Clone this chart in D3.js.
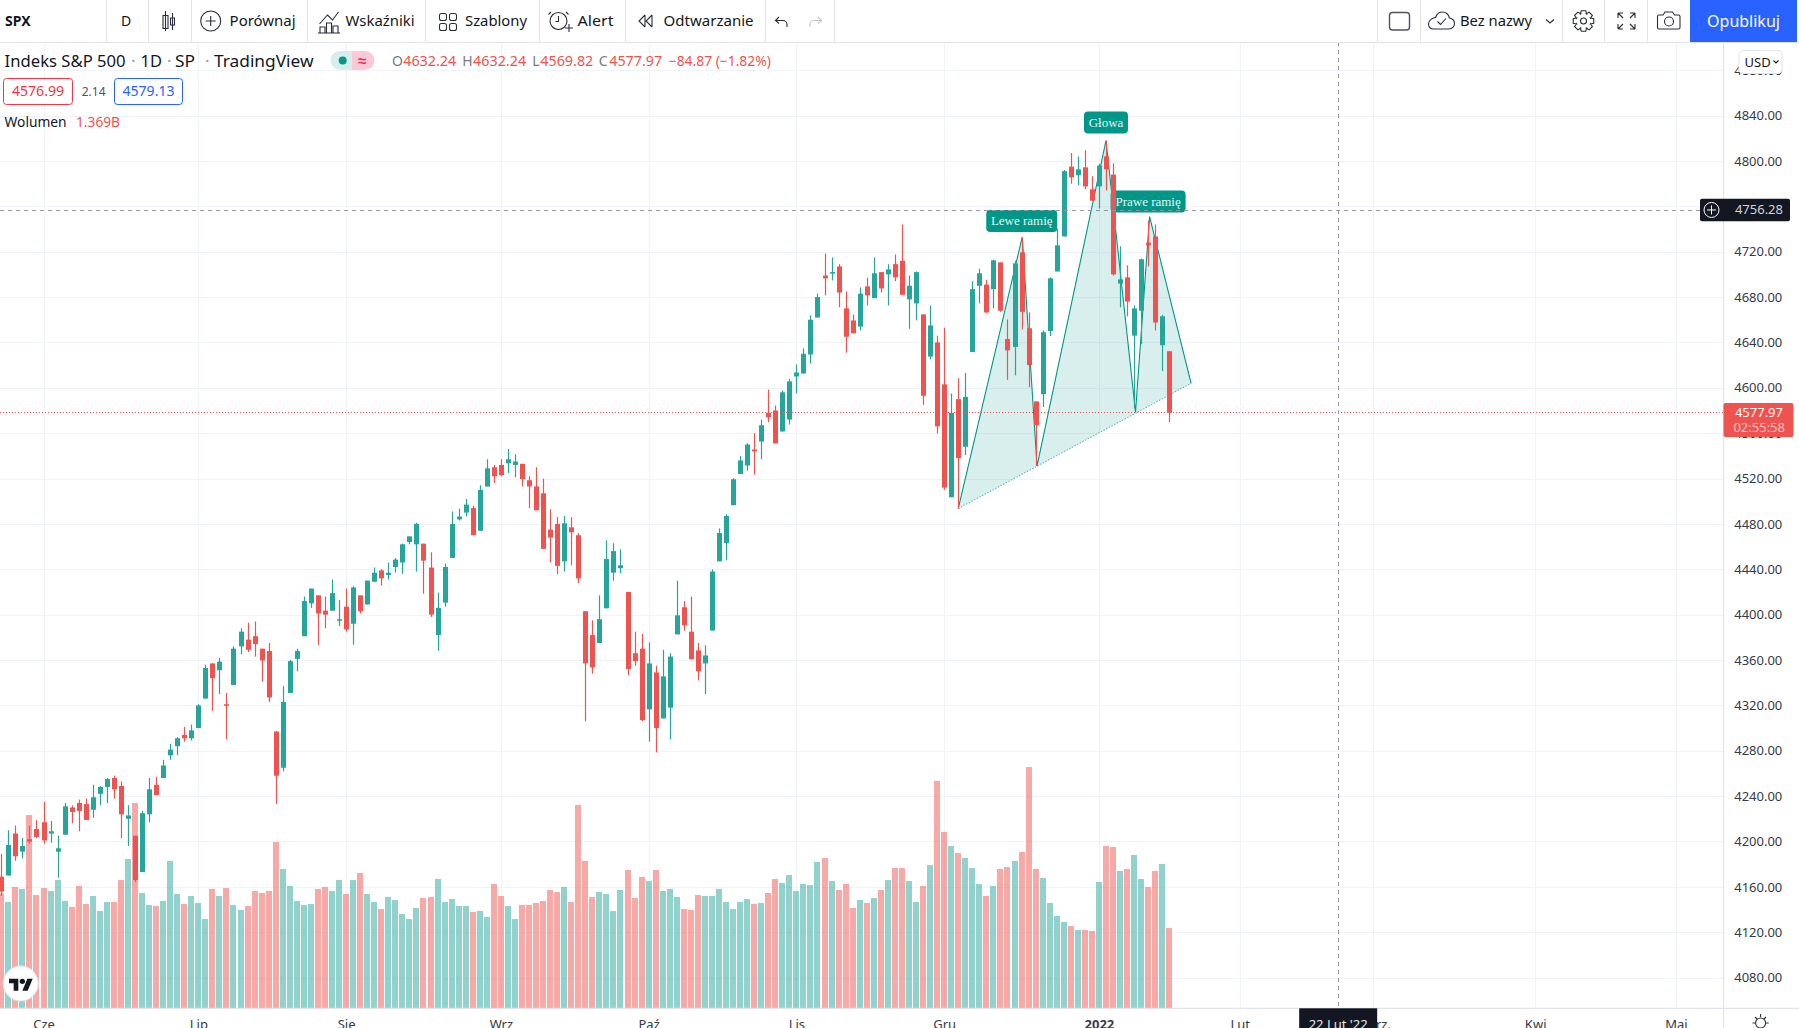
<!DOCTYPE html>
<html><head><meta charset="utf-8">
<script src="https://cdn.jsdelivr.net/npm/d3@7"></script>
<style>html,body{margin:0;padding:0;background:#fff;overflow:hidden}svg{display:block}
text{font-family:"Noto Sans",sans-serif}</style></head><body>
<svg id="c" width="1799" height="1028"></svg>
<script>
const opens=[4169,4170,4207,4191,4202,4211,4217,4207,4191,4206,4230,4234,4233,4228,4242,4248,4256,4249,4220,4205,4173,4224,4250,4256,4276,4284,4294,4291,4300,4326,4357,4351,4321,4338,4372,4378,4381,4370,4368,4297,4265,4331,4361,4381,4410,4417,4403.5,4403.5,4395,4407,4392,4417,4409,4429,4439,4435,4442,4446,4464,4462,4462.6,4441.5,4382,4410.6,4450,4484,4490,4494,4474,4513,4530,4532,4533.5,4532,4533,4518.5,4513,4507,4475,4480,4447,4477,4470,4403,4382,4375,4405.6,4437,4441,4420,4366,4370,4316.5,4349,4308.5,4318,4382.6,4406.5,4385,4368.5,4357,4386,4447,4463,4496.5,4524,4531.5,4545.6,4552.6,4578,4580,4561.5,4572,4610,4612.6,4629.4,4662,4699,4701,4707,4670,4659.4,4654,4689.4,4679,4702,4700,4709,4712,4678,4674.4,4664.7,4627.6,4640,4603,4503.5,4590,4548,4631.5,4690,4691,4687,4710.6,4643,4636,4719.4,4652.5,4588,4594.4,4650,4702.6,4733.5,4795,4787.4,4794.4,4775,4777.6,4804,4788,4692,4697.4,4646,4668,4728,4733.5,4637.6,4632.24];
const highs=[4189,4210,4214,4203,4214,4219,4235,4218,4205,4234,4232,4237,4238,4250,4249,4256,4258,4253,4232,4205,4227,4256,4257,4272,4286,4292,4301,4303,4321,4356,4357,4362,4331,4372,4388,4393,4394,4370,4375,4297,4337,4360,4370,4416,4423,4417,4416,4431,4413,4423,4425,4417,4430,4441.5,4440,4446,4450,4462.6,4469,4481,4462.6,4455,4419.4,4445,4491,4493.5,4502,4496,4514,4537,4532,4537,4546,4541.5,4533,4522,4530,4520,4493,4486,4487,4486,4472,4403,4395,4417,4465.6,4463,4457.6,4420,4385,4383,4375.6,4355,4369,4366,4430,4412,4416,4375,4373,4440,4476,4488.5,4520.3,4540,4551,4560,4572,4598.5,4584.4,4597.6,4608,4620.6,4634.7,4664,4683,4718.5,4715,4709,4685,4664.7,4688.5,4697,4715,4702,4709,4717.6,4744,4699,4702.6,4664.7,4672.6,4646,4653,4595,4608.5,4613,4694,4705,4695,4713,4710.6,4660.3,4712,4732,4666.5,4588,4650.6,4697.5,4740,4792,4807,4804,4809.4,4786.5,4797.6,4818,4798,4724.7,4708,4672.6,4714,4747.6,4744,4664.4,4632.24];
const lows=[4152,4170,4183,4185,4198,4203,4198,4199,4168,4206,4216,4209,4219,4221,4232,4234,4238,4203,4196,4164,4173,4217,4241,4256,4272,4276,4288,4289,4300,4326,4315,4330,4290,4338,4365,4367,4363,4341,4323,4233,4262,4331,4350,4381,4406,4373,4388,4403.5,4390,4385,4373.5,4401,4409,4429,4425.6,4431,4437,4436,4462,4438,4418.5,4398,4368,4407,4450,4483,4486.5,4470,4474,4513,4516,4522,4525,4521,4513,4494,4492,4458,4446,4435.6,4438,4443.5,4427.6,4306,4348,4375,4405.6,4430,4436.5,4346.5,4355,4306,4288,4278.5,4308.5,4290,4382.6,4386,4360.6,4342,4330,4386,4447,4448,4496.5,4524,4527,4523.5,4537,4569.6,4551,4561.5,4567.6,4595,4612.6,4621.5,4662,4681.5,4694.7,4671,4631,4648,4650.6,4672.6,4679,4684,4672.6,4694,4682,4652,4659.4,4585,4625,4559.7,4510,4503.5,4493.5,4540.6,4631.5,4674.4,4666,4670,4667,4607,4611,4651.5,4600.6,4531,4583,4645.6,4702.6,4733.5,4780,4778.5,4775,4765,4758,4774,4699,4671,4663,4582,4638.5,4707,4650.6,4614.7,4569.82];
const closes=[4156,4197,4187,4196,4200,4204,4201,4209,4194,4231,4226,4227,4219,4239,4248,4255,4246,4224,4223,4166,4225,4246,4241,4267,4281,4291,4291,4298,4320,4353,4344,4358.5,4320,4370,4385,4369,4374,4359.6,4327,4258,4323,4359,4368,4412,4423,4401,4400,4419,4396,4387,4424,4403,4430,4437,4432,4437,4448.5,4462,4469,4480,4447.6,4400,4406,4442,4480,4486.5,4497,4470,4510,4529,4522,4523,4537,4535,4519.6,4513,4492,4458,4468,4443,4480.6,4472.6,4432,4357,4353.5,4396,4449,4456,4443.5,4352,4359,4307,4357,4300,4345.6,4363,4399.4,4390.6,4360.6,4350,4364,4438,4472,4487,4519.4,4536,4550,4544,4567,4574,4551,4596,4605.6,4613.5,4630,4660,4680,4696.5,4702,4684,4645,4648,4683,4681.5,4701,4687.6,4704.4,4697.4,4682,4690,4702,4593,4655,4566,4512,4578,4538,4592,4687,4701,4666.5,4712.4,4668,4633,4709.7,4667,4620,4567,4649,4696.5,4725.6,4791,4785.6,4792.6,4777.6,4765,4796,4792.6,4700,4695.6,4676,4670,4713.3,4725.6,4657.6,4663,4577.97];
const volumes=[1960,1812,2068,2033,3294,1931,2050,1999,2187,1829,1727,2085,1778,1914,1659,1812,1812,2187,2545,3499,1965,1761,1744,1829,2511,1948,1778,1914,1795,1522,2033,1914,2050,1761,1676,1744,1999,1965,1999,2834,2374,2085,1829,1761,1778,2033,2068,1999,2187,1948,2187,2306,1948,1812,1693,1897,1846,1607,1522,1710,1880,1897,2204,1812,1863,1744,1744,1642,1659,1556,2119,1914,1744,1522,1761,1761,1795,1829,2016,1982,2068,1812,3465,2511,1897,1982,1948,1659,2016,2357,1880,2238,2170,2357,1999,2033,1897,1693,1676,1931,1914,1914,2033,1812,1693,1812,1863,1778,1795,1965,2204,2136,2272,1999,2119,2102,2494,2562,2170,2016,2119,1710,1846,1795,1880,2016,2187,2391,2391,2170,1812,2085,2442,3874,3005,2766,2647,2562,2391,2119,1914,2085,2374,2408,2511,2664,4112,2374,2221,1795,1573,1471,1403,1335,1335,1318,2153,2766,2749,2340,2374,2613,2204,2068,2340,2459,1369];
const priceTicks=[4080,4120,4160,4200,4240,4280,4320,4360,4400,4440,4480,4520,4560,4600,4640,4680,4720,4760,4800,4840,4880];
const monthIndex=[6,28,49,71,92,113,134,156,176,195,218,238];
const monthLabels=["Cze","Lip","Sie","Wrz","Paź","Lis","Gru","2022","Lut","Marz.","Kwi","Maj"];
const patternIndex=[136,145.1,147.2,157,161.2,163.2,169.1];
const patternPrice=[4493.5,4733,4531,4818,4578.5,4751,4604];
const patternLabels=["Lewe ramię","Głowa","Prawe ramię"];
const labelAnchorPoint=[1,3,5];
const lastPrice=4577.97, crossPrice=4756.28, crossIndex=190;

const W=1799,H=1028,PR=1723.5,TOP=42,BOT=1008.3;
const RED="#ef5350",GRN="#26a69a",TEAL="#009688",GRID="#f0f3fa",BORDER="#e0e3eb",INK="#131722";
const x=d3.scaleLinear().domain([0,166]).range([1.3,1169.3]);
const y=d3.scaleLinear().domain([4080,4840]).range([977.6,115.6]);
const yv=d3.scaleLinear().domain([0,4112]).range([BOT,BOT-241.3]);
const svg=d3.select("#c");
svg.append("defs").append("clipPath").attr("id","pane").append("rect").attr("x",0).attr("y",TOP+1).attr("width",PR).attr("height",BOT-TOP-1);
const pane=svg.append("g").attr("clip-path","url(#pane)");
// grid
pane.append("g").selectAll("line").data(priceTicks).join("line")
 .attr("x1",0).attr("x2",PR).attr("y1",d=>Math.round(y(d))+.5).attr("y2",d=>Math.round(y(d))+.5).attr("stroke",GRID);
pane.append("g").selectAll("line").data(monthIndex).join("line")
 .attr("y1",TOP).attr("y2",BOT).attr("x1",d=>Math.round(x(d))+.5).attr("x2",d=>Math.round(x(d))+.5).attr("stroke",GRID);
// volume
pane.append("g").selectAll("rect").data(volumes).join("rect")
 .attr("x",(d,i)=>Math.round(x(i))-3).attr("width",6)
 .attr("y",d=>yv(d)).attr("height",d=>BOT-yv(d))
 .attr("fill",(d,i)=>closes[i]<opens[i]?RED:GRN).attr("fill-opacity",.5);
// pattern
const pts=patternIndex.map((d,i)=>[x(d),y(patternPrice[i])]);
const pat=pane.append("g");
pat.append("path").attr("d",d3.line()(pts)+"Z").attr("fill",TEAL).attr("fill-opacity",.15);
pat.append("path").attr("d",d3.line()(pts)).attr("fill","none").attr("stroke",TEAL).attr("stroke-width",1.1);
pat.append("line").attr("x1",pts[0][0]).attr("y1",pts[0][1]).attr("x2",pts[6][0]).attr("y2",pts[6][1])
 .attr("stroke",TEAL).attr("stroke-opacity",.6).attr("stroke-width",1.1).attr("stroke-dasharray","1.5 1.5");
const labelW=[71,44,75];
const labelGap=[5,7,4];
const labelLeft=[36,22,39];
patternLabels.forEach((t,i)=>{
  const p=pts[labelAnchorPoint[i]], w=labelW[i], h=22;
  const top=p[1]-h-labelGap[i];
  const lx=p[0]-labelLeft[i];
  pat.append("rect").attr("x",lx).attr("y",top).attr("width",w).attr("height",h).attr("rx",4).attr("fill",TEAL);
  pat.append("text").attr("x",lx+w/2).attr("y",top+h/2+4.3).attr("text-anchor","middle")
   .style("font-family",'"Liberation Serif",serif').attr("font-size",13).attr("fill","#e6f5f3").text(t);
});
// candles
const cg=pane.append("g");
opens.forEach((o,i)=>{
  const c=closes[i],col=c<o?RED:GRN,xc=Math.round(x(i));
  cg.append("line").attr("x1",xc+.5).attr("x2",xc+.5).attr("y1",y(highs[i])).attr("y2",y(lows[i])).attr("stroke",col).attr("stroke-width",1.2);
  const t=y(Math.max(o,c)),b=y(Math.min(o,c));
  cg.append("rect").attr("x",xc-2).attr("width",5).attr("y",t).attr("height",Math.max(b-t,1.5)).attr("fill",col);
});
// last price + crosshair
pane.append("line").attr("x1",0).attr("x2",PR).attr("y1",Math.floor(y(lastPrice))+.5).attr("y2",Math.floor(y(lastPrice))+.5).attr("stroke",RED).attr("stroke-dasharray","1 2");
const cross=pane.append("g").attr("stroke","#9598a1").attr("stroke-dasharray","4 4");
cross.append("line").attr("x1",0).attr("x2",PR).attr("y1",Math.floor(y(crossPrice))+.5).attr("y2",Math.floor(y(crossPrice))+.5);
cross.append("line").attr("x1",Math.round(x(crossIndex))+.5).attr("x2",Math.round(x(crossIndex))+.5).attr("y1",TOP).attr("y2",BOT);
// axes
const ya=svg.append("g").attr("transform","translate(1782.3,0)").call(d3.axisRight(y).tickValues(priceTicks).tickSize(0).tickPadding(0).tickFormat(d=>d.toFixed(2)));
ya.select(".domain").remove();
ya.selectAll("text").attr("text-anchor","end").attr("x",0).attr("font-size",13).attr("fill","#363a45").style("font-family",'"Noto Sans"');
const xa=svg.append("g").attr("transform",`translate(0,${BOT})`).call(d3.axisBottom(x).tickValues(monthIndex).tickSize(0).tickPadding(0).tickFormat((d,i)=>monthLabels[i]));
xa.select(".domain").remove();
xa.selectAll("text").attr("y",21).attr("dy",0).attr("font-size",13).attr("fill","#363a45").style("font-family",'"Noto Sans"').attr("font-weight",(d,i)=>monthLabels[i]=="2022"?700:400);
svg.append("line").attr("x1",0).attr("x2",W).attr("y1",BOT).attr("y2",BOT).attr("stroke",BORDER).attr("stroke-width",1.2);
svg.append("line").attr("x1",PR).attr("x2",PR).attr("y1",TOP).attr("y2",H).attr("stroke",BORDER).attr("stroke-width",1.2);

// helper
function T(t,px,py,o={}){const e=svg.append("text").attr("x",px).attr("y",py).attr("font-size",o.s||14).attr("fill",o.c||INK).attr("text-anchor",o.a||"start").attr("font-weight",o.w||400).text(t);if(o.f)e.style("font-family",o.f);if(o.l)e.attr("textLength",o.l).attr("lengthAdjust","spacingAndGlyphs");return e;}
// crosshair tags
const ty=y(crossPrice)-.6;
svg.append("rect").attr("x",1700).attr("y",ty-11.3).attr("width",90).attr("height",22.6).attr("rx",2).attr("fill",INK);
svg.append("circle").attr("cx",1711.5).attr("cy",ty).attr("r",7.5).attr("fill","none").attr("stroke","#fff");
svg.append("path").attr("d",`M1707 ${ty}h9M1711.5 ${ty-4.5}v9`).attr("stroke","#fff");
T(crossPrice.toFixed(2),1783,ty+4.5,{a:"end",s:13,c:"#d1d4dc"});
const lx=x(crossIndex);
svg.append("rect").attr("x",lx-39).attr("y",BOT).attr("width",78).attr("height",H-BOT).attr("fill",INK);
T("22 Lut '22",lx,1029,{a:"middle",s:13,c:"#e8e8ea"});
// last price tag
svg.append("rect").attr("x",1723.5).attr("y",403).attr("width",70).attr("height",34).attr("rx",2).attr("fill",RED);
T(lastPrice.toFixed(2),1783,416.7,{a:"end",s:13,c:"#fff"});
T("02:55:58",1785,431.7,{a:"end",s:13,c:"#fbc4c3"});
// USD
svg.append("rect").attr("x",1739).attr("y",50.5).attr("width",43).attr("height",23).attr("rx",4).attr("fill","#fff").attr("stroke",BORDER);
T("USD",1744.5,66.5,{s:13});
svg.append("path").attr("d","M1773.5 60.5l2.5 2.5 2.5-2.5").attr("fill","none").attr("stroke",INK).attr("stroke-width",1.1);

// toolbar
svg.append("rect").attr("x",0).attr("y",0).attr("width",W).attr("height",42).attr("fill","#fff");
svg.append("line").attr("x1",0).attr("x2",W).attr("y1",42.5).attr("y2",42.5).attr("stroke",BORDER).attr("stroke-width",1.2);
[105.6,148,190.6,306.5,425.4,538.5,624.6,764.6,833.5,1377.3,1420.3,1561.7,1604.3,1647.3].forEach(v=>svg.append("line").attr("x1",Math.round(v)+.5).attr("x2",Math.round(v)+.5).attr("y1",0).attr("y2",42).attr("stroke",BORDER));
svg.append("rect").attr("x",1690).attr("y",0).attr("width",107).attr("height",42).attr("fill","#2962ff");
T("Opublikuj",1743.5,26.5,{a:"middle",s:16,c:"#fff"});
T("SPX",5,26,{s:14,w:700});
T("D",126,26,{a:"middle",s:14});
[["Porównaj",229.6,66],["Wskaźniki",345.6,69],["Szablony",465,62],["Alert",577.5,36],["Odtwarzanie",663.6,90]].forEach(a=>T(a[0],a[1],26,{s:14.5,l:a[2]}));
T("Bez nazwy",1460,26,{s:14.5,l:72});
const ic=svg.append("g").attr("fill","none").attr("stroke","#2a2e39").attr("stroke-width",1.1);
ic.append("path").attr("d","M165.5 11v20M163 15.5h5v13h-5zM172.5 13v17M170.5 18h4v7h-4z");
ic.append("circle").attr("cx",210.7).attr("cy",21).attr("r",10);
ic.append("path").attr("d","M205.7 21h10M210.7 16v10");
ic.append("path").attr("d","M319.5 24l8-9 5 5 6-8M320 33v-6h5v6M326.5 33v-10h5v10M333 33v-7h5v7M318 33h22");
[[439.5,13.5],[449.5,13.5],[439.5,23.5],[449.5,23.5]].forEach(a=>ic.append("rect").attr("x",a[0]).attr("y",a[1]).attr("width",7).attr("height",7).attr("rx",2));
ic.append("circle").attr("cx",558.5).attr("cy",21).attr("r",8.5);
ic.append("path").attr("d","M558.5 16v5.5h-3M551 12l-2.5 2.5M566 12l2.5 2.5M565 28h8M569 24v8");
ic.append("path").attr("d","M645 15l-6 6 6 6M652 15l-6 6 6 6M645 15v12M652 15v12");
ic.append("path").attr("d","M779 17l-3.5 3.5 3.5 3M776 20.5h7c2.5 0 4 2 4 4v2.5");
ic.append("path").attr("d","M818 17l3.5 3.5-3.5 3M821 20.5h-7c-2.5 0-4 2-4 4v2.5").attr("stroke","#c1c4cd");
ic.append("rect").attr("x",1389.5).attr("y",12.5).attr("width",20).attr("height",17.5).attr("rx",3).attr("stroke","#50535e").attr("stroke-width",1.4);
ic.append("path").attr("d","M1436 29h13c3 0 5.5-2.5 5.5-5.5s-2.5-5-5-5.5c-1-3.5-3.5-6-7-6-3.5 0-6 2.5-7 5.5-3.5.5-7 3-7 6.5s2.5 5 5.500 5zM1437.5 21.5l3 3 5.5-6");
ic.append("path").attr("d","M1546 19.5l4 3.5 4-3.5");
ic.append("circle").attr("cx",1583.5).attr("cy",21).attr("r",3);
const gearA=d3.range(8).map(k=>k*Math.PI/4);
ic.append("path").attr("d",gearA.map(a=>{const c=1583.5,d=21,r1=10.5,r2=7.5,w=.32;const pt=(r,t)=>`${(c+r*Math.cos(t)).toFixed(2)} ${(d+r*Math.sin(t)).toFixed(2)}`;return `L${pt(r2,a-w-.1)}L${pt(r1,a-w+.1)}L${pt(r1,a+w-.1)}L${pt(r2,a+w+.1)}`;}).join("").replace(/^L/,"M")+"Z");
ic.append("path").attr("d","M1618 13h5M1618 13v5M1618 13l5 5M1635 13h-5M1635 13v5M1635 13l-5 5M1618 29h5M1618 29v-5M1618 29l5-5M1635 29h-5M1635 29v-5M1635 29l-5-5");
ic.append("path").attr("d","M1660 15h4l2-3h7.5l2 3h4c1 0 1.5 .7 1.5 1.5v11c0 1-.5 1.5-1.5 1.5h-19.5c-1 0-1.5-.5-1.5-1.5v-11c0-.8.5-1.5 1.5-1.500z").attr("transform","translate(-1,0)");
ic.append("circle").attr("cx",1669).attr("cy",21.5).attr("r",4.5);
// gear bottom
ic.append("circle").attr("cx",1760.6).attr("cy",1023).attr("r",5);
ic.append("path").attr("d","M1760.6 1014v3M1752.5 1023h3M1768.7 1023h-3M1755 1017l2 2M1766 1017l-2 2");

// legend
T("Indeks S&P 500",4.6,67,{s:17,l:121});
T("·",131,67,{s:17,c:"#9598a1"});T("1D",140.6,67,{s:17,l:21.5});
T("·",167,67,{s:17,c:"#9598a1"});T("SP",175,67,{s:17,l:20});
T("·",205,67,{s:17,c:"#9598a1"});T("TradingView",214,67,{s:17,l:99.5});
svg.append("path").attr("d","M352 51h-12a9.5 9.5 0 0 0 0 19h12z").attr("fill","#d7efec");
svg.append("path").attr("d","M352 51h13a9.5 9.5 0 0 1 0 19h-13z").attr("fill","#fbc8d7");
svg.append("circle").attr("cx",342.7).attr("cy",60.5).attr("r",4).attr("fill","#089981");
T("≈",362,65.5,{a:"middle",s:15,c:"#e8304f",w:700});
const grey="#787b86";
[["O",392,"4632.24",403.2],["H",462.2,"4632.24",473.1],["L",532.2,"4569.82",540.3],["C",598.8,"4577.97",609.2]].forEach(a=>{T(a[0],a[1],66,{s:14,c:grey});T(a[2],a[3],66,{s:14,c:RED,l:53});});
T("−84.87 (−1.82%)",668.8,66,{s:14,c:RED,l:102});
svg.append("rect").attr("x",3.5).attr("y",78.5).attr("width",69).attr("height",26).attr("rx",3).attr("fill","#fff").attr("stroke","#f23645");
T("4576.99",38,96,{a:"middle",s:14,c:"#f23645",l:52});
T("2.14",93.6,96,{a:"middle",s:12,c:"#50535e"});
svg.append("rect").attr("x",114.5).attr("y",78.5).attr("width",68).attr("height",26).attr("rx",3).attr("fill","#fff").attr("stroke","#2962ff");
T("4579.13",148.5,96,{a:"middle",s:14,c:"#2962ff",l:52});
T("Wolumen",4.6,127,{s:14,l:62});
T("1.369B",76,127,{s:14,c:RED,l:44});
// logo
svg.append("circle").attr("cx",20.7).attr("cy",983.5).attr("r",17.5).attr("fill","#fff").attr("stroke","#e0e3eb");
const logo=svg.append("g").attr("transform","translate(9,976) scale(.667)").attr("fill",INK);
logo.append("path").attr("d","M14 22H7V11H0V4h14v18zM28 22h-8l7.5-18h8L28 22z");
logo.append("circle").attr("cx",20).attr("cy",8).attr("r",4);
</script></body></html>
